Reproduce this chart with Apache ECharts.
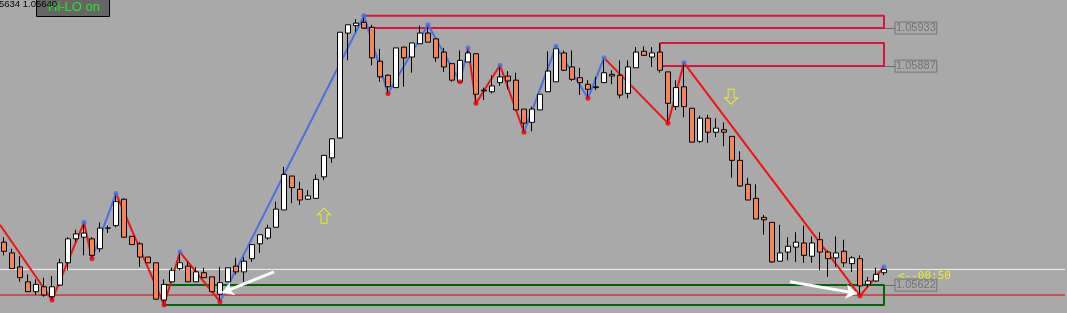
<!DOCTYPE html>
<html><head><meta charset="utf-8">
<script src="https://cdn.jsdelivr.net/npm/echarts@6/dist/echarts.min.js"></script>
<style>html,body{margin:0;padding:0;background:#a9a9a9;overflow:hidden}#c{width:1067px;height:313px}</style>
</head><body><div id="c"></div>
<script>
// ---------- data ----------
const opens = [1.05674,1.05661,1.05644,1.05626,1.05614,1.05620,1.05608,1.05622,1.05649,1.05678,
 1.05680,1.05678,1.05666,1.05691,1.05694,1.05726,1.05681,1.05672,1.05656,1.05649,
 1.05604,1.05626,1.05642,1.05645,1.05626,1.05637,1.05632,1.05611,1.05626,1.05645,
 1.05638,1.05654,1.05672,1.05679,1.05692,1.05713,1.05754,1.05738,1.05726,1.05727,
 1.05753,1.05776,1.05800,1.05927,1.05936,1.05940,1.05934,1.05893,1.05876,1.05861,
 1.05910,1.05898,1.05914,1.05927,1.05920,1.05904,1.05890,1.05868,1.05892,1.05902,
 1.05858,1.05856,1.05867,1.05875,1.05870,1.05835,1.05819,1.05834,1.05856,1.05868,
 1.05903,1.05886,1.05873,1.05865,1.05861,1.05867,1.05877,1.05876,1.05854,1.05885,
 1.05905,1.05898,1.05904,1.05880,1.05838,1.05862,1.05836,1.05796,1.05824,1.05807,
 1.05810,1.05802,1.05773,1.05744,1.05727,1.05704,1.05698,1.05651,1.05662,1.05668,
 1.05673,1.05657,1.05677,1.05662,1.05655,1.05663,1.05648,1.05654,1.05623,1.05627,
 1.05637];
const closes = [1.05663,1.05642,1.05631,1.05614,1.05623,1.05610,1.05620,1.05649,1.05678,1.05684,
 1.05685,1.05658,1.05691,1.05691,1.05723,1.05680,1.05671,1.05656,1.05649,1.05605,
 1.05623,1.05640,1.05649,1.05626,1.05638,1.05631,1.05614,1.05625,1.05643,1.05638,
 1.05651,1.05671,1.05683,1.05691,1.05714,1.05756,1.05740,1.05725,1.05730,1.05750,
 1.05779,1.05799,1.05928,1.05937,1.05939,1.05933,1.05897,1.05874,1.05862,1.05909,
 1.05897,1.05915,1.05927,1.05916,1.05897,1.05886,1.05870,1.05894,1.05903,1.05853,
 1.05857,1.05863,1.05874,1.05869,1.05834,1.05818,1.05835,1.05853,1.05881,1.05908,
 1.05882,1.05871,1.05867,1.05859,1.05862,1.05879,1.05875,1.05852,1.05886,1.05904,
 1.05900,1.05903,1.05882,1.05842,1.05861,1.05838,1.05795,1.05824,1.05807,1.05812,
 1.05807,1.05773,1.05742,1.05725,1.05702,1.05701,1.05650,1.05661,1.05669,1.05674,
 1.05658,1.05673,1.05662,1.05654,1.05661,1.05649,1.05655,1.05621,1.05627,1.05635,
 1.05641];
const lows = [1.05658,1.05642,1.05626,1.05614,1.05610,1.05608,1.05604,1.05621,1.05640,1.05674,
 1.05658,1.05654,1.05662,1.05685,1.05692,1.05680,1.05671,1.05644,1.05649,1.05605,
 1.05598,1.05625,1.05640,1.05626,1.05626,1.05631,1.05614,1.05602,1.05626,1.05635,
 1.05626,1.05650,1.05661,1.05677,1.05692,1.05713,1.05721,1.05719,1.05725,1.05727,
 1.05749,1.05770,1.05799,1.05894,1.05928,1.05933,1.05888,1.05868,1.05854,1.05861,
 1.05862,1.05879,1.05914,1.05916,1.05892,1.05880,1.05868,1.05868,1.05892,1.05842,
 1.05846,1.05854,1.05863,1.05859,1.05834,1.05807,1.05808,1.05834,1.05856,1.05868,
 1.05881,1.05869,1.05852,1.05848,1.05858,1.05867,1.05865,1.05848,1.05848,1.05885,
 1.05900,1.05886,1.05879,1.05818,1.05834,1.05825,1.05795,1.05794,1.05794,1.05801,
 1.05790,1.05752,1.05741,1.05725,1.05702,1.05683,1.05649,1.05650,1.05652,1.05650,
 1.05649,1.05649,1.05640,1.05632,1.05644,1.05644,1.05638,1.05609,1.05620,1.05626,
 1.05634];
const highs = [1.05680,1.05666,1.05657,1.05635,1.05629,1.05631,1.05633,1.05654,1.05680,1.05689,
 1.05698,1.05680,1.05698,1.05694,1.05733,1.05727,1.05681,1.05674,1.05656,1.05649,
 1.05629,1.05643,1.05662,1.05650,1.05644,1.05643,1.05632,1.05644,1.05643,1.05655,
 1.05656,1.05671,1.05683,1.05695,1.05723,1.05765,1.05754,1.05747,1.05737,1.05756,
 1.05779,1.05800,1.05928,1.05937,1.05944,1.05948,1.05937,1.05908,1.05877,1.05909,
 1.05910,1.05915,1.05936,1.05937,1.05920,1.05909,1.05890,1.05906,1.05909,1.05902,
 1.05861,1.05876,1.05888,1.05881,1.05879,1.05835,1.05838,1.05853,1.05905,1.05911,
 1.05906,1.05906,1.05885,1.05870,1.05874,1.05897,1.05882,1.05894,1.05894,1.05910,
 1.05911,1.05910,1.05915,1.05880,1.05870,1.05891,1.05836,1.05827,1.05828,1.05824,
 1.05819,1.05802,1.05784,1.05752,1.05744,1.05707,1.05698,1.05695,1.05680,1.05686,
 1.05694,1.05681,1.05686,1.05664,1.05681,1.05677,1.05657,1.05658,1.05632,1.05643,
 1.05644];

// zigzag pivots (bar index, price) and segment colours
const zzIdx   = [-0.5,6,10,11,14,20,22,27,45,48,53,57,58,59,62,65,69,73,75,83,85,107,110];
const zzPrice = [1.05695,1.05604,1.05698,1.05654,1.05733,1.05598,1.05662,1.05602,1.05948,1.05854,
                 1.05937,1.05868,1.05909,1.05842,1.05888,1.05807,1.05911,1.05848,1.05897,1.05818,
                 1.05891,1.05609,1.05644];
const zzSegUp = [0,0,0,1,0,0,0,1,1,1,1,1,0,0,0,1,1,1,0,0,0,0]; // 1 = blue leg, 0 = red leg

// zones [fromBar, toBar, topPrice, bottomPrice]
const resistZone1 = [44.875, 110, 1.05948, 1.05933];
const resistZone2 = [82, 110, 1.05915, 1.05887];
const supportZone = [20.1, 110, 1.05622, 1.05598];
const zoneLabels = [1.05933, 1.05887, 1.05622];
const bidPrice = 1.05641;
const redLevel = 1.05610;
// white arrows [fromBar, fromPrice, toBar, toPrice]
const whiteArrows = [[33.75, 1.05638, 27.3, 1.05613], [98.25, 1.05626, 106.6, 1.05612]];
// yellow signal arrows [bar, price, dir]
const signalArrows = [[40, 1.05706, 'up'], [90.9, 1.05850, 'down']];
const timerText = '<--00:50';
const infoText = '5634 1.05640';
const buttonText = 'Hi-LO on';

// ---------- chart ----------
const SLOTS = 133;
const cats = [];
for (let i = 0; i < SLOTS; i++) cats.push('b' + i);
const ohlc = opens.map((o, i) => [o, closes[i], lows[i], highs[i]]);
const RED = '#f21010', BLUE = '#4a6ee8';

const zzSegs = [];
for (let i = 0; i < zzIdx.length - 1; i++) {
  zzSegs.push({coords: [[zzIdx[i], zzPrice[i]], [zzIdx[i+1], zzPrice[i+1]]],
               lineStyle: {color: zzSegUp[i] ? BLUE : RED}});
}
const zzDots = [];
for (let i = 1; i < zzIdx.length; i++) {
  const isHigh = zzPrice[i] > zzPrice[i-1];
  zzDots.push({value: [zzIdx[i], zzPrice[i]], itemStyle: {color: isHigh ? BLUE : '#ee0000'}});
}
function rectPath(z) {
  return [[z[0], z[2]], [z[1], z[2]], [z[1], z[3]], [z[0], z[3]], [z[0], z[2]]];
}
const YMAX = 1.05967, YMIN = 1.0558827;

const chart = echarts.init(document.getElementById('c'), null, {renderer: 'canvas'});
chart.setOption({
  backgroundColor: '#a9a9a9',
  animation: false,
  grid: {left: 0, right: 3, top: 0, bottom: 0},
  xAxis: [
    {type: 'category', data: cats, show: false, boundaryGap: true},
    {type: 'value', min: -0.5, max: SLOTS - 0.5, show: false}
  ],
  yAxis: {type: 'value', min: YMIN, max: YMAX, show: false, splitLine: {show: false}},
  graphic: [
    {type: 'rect', z: 50, shape: {x: 36.5, y: -3, width: 73, height: 19.5},
     style: {fill: '#666666', stroke: '#000000', lineWidth: 1}},
    {type: 'text', z: 51, style: {text: buttonText, x: 48, y: 7, fill: '#1ef01e',
     font: '13px "Liberation Sans", Arial, sans-serif', verticalAlign: 'middle'}},
    {type: 'text', z: 52, style: {text: infoText, x: -1, y: 4, fill: '#000000',
     font: '9.5px "Liberation Sans", Arial, sans-serif', verticalAlign: 'middle'}}
  ],
  series: [
    {type: 'line', name: 'bid', xAxisIndex: 1, z: 1, clip: false, showSymbol: false, silent: true,
     data: [[-0.5, bidPrice], [SLOTS, bidPrice]], lineStyle: {color: '#f4f4f4', width: 1}},
    {type: 'line', name: 'low level', xAxisIndex: 1, z: 1, clip: false, showSymbol: false, silent: true,
     data: [[-0.5, redLevel], [SLOTS, redLevel]], lineStyle: {color: '#dd0000', width: 1}},
    {type: 'line', name: 'zone1', xAxisIndex: 1, z: 1, showSymbol: false, silent: true,
     data: rectPath(resistZone1), lineStyle: {color: '#dc143c', width: 2}},
    {type: 'line', name: 'zone2', xAxisIndex: 1, z: 1, showSymbol: false, silent: true,
     data: rectPath(resistZone2), lineStyle: {color: '#dc143c', width: 2}},
    {type: 'line', name: 'zone3', xAxisIndex: 1, z: 1, showSymbol: false, silent: true,
     data: rectPath(supportZone), lineStyle: {color: '#006400', width: 2}},
    {type: 'lines', name: 'connectors', coordinateSystem: 'cartesian2d', xAxisIndex: 1, z: 1, silent: true,
     data: zoneLabels.map(p => ({coords: [[110, p], [111.4, p]]})),
     lineStyle: {color: '#6c6c6c', width: 1, opacity: 1}},
    {type: 'lines', name: 'zigzag', coordinateSystem: 'cartesian2d', xAxisIndex: 1, z: 2, silent: true,
     data: zzSegs, lineStyle: {width: 2, opacity: 1}},
    {type: 'candlestick', name: 'price', xAxisIndex: 0, z: 3, barWidth: 5, silent: true,
     data: ohlc,
     itemStyle: {color: '#ffffff', color0: '#f4845c', borderColor: '#000000', borderColor0: '#000000', borderWidth: 1}},
    {type: 'scatter', name: 'pivots', xAxisIndex: 1, z: 4, symbolSize: 5, silent: true, data: zzDots},
    {type: 'lines', name: 'white arrows', coordinateSystem: 'cartesian2d', xAxisIndex: 1, z: 5, silent: true,
     symbol: ['none', 'arrow'], symbolSize: 11,
     data: whiteArrows.map(a => ({coords: [[a[0], a[1]], [a[2], a[3]]]})),
     lineStyle: {color: '#ffffff', width: 3, opacity: 1}},
    {type: 'scatter', name: 'signals', xAxisIndex: 1, z: 5, silent: true,
     data: signalArrows.map(a => ({value: [a[0], a[1]],
       symbol: a[2] === 'up'
         ? 'path://M6.5,0 L13,6.5 L9.5,6.5 L9.5,15 L3.5,15 L3.5,6.5 L0,6.5 Z'
         : 'path://M6.5,15 L13,8.5 L9.5,8.5 L9.5,0 L3.5,0 L3.5,8.5 L0,8.5 Z'})),
     symbolSize: [13, 15],
     itemStyle: {color: 'rgba(0,0,0,0)', borderColor: '#ffff00', borderWidth: 1}},
    {type: 'scatter', name: 'price labels', xAxisIndex: 1, z: 6, silent: true, symbolSize: 0,
     data: zoneLabels.map(p => [111.375, p]),
     label: {show: true, position: 'right', distance: 0, formatter: p => p.value[1].toFixed(5),
       color: '#666666', fontSize: 11, fontFamily: '"Liberation Sans", Arial, sans-serif',
       borderColor: '#666666', borderWidth: 1, padding: [1, 1, 0, 1], lineHeight: 11}},
    {type: 'scatter', name: 'timer', xAxisIndex: 1, z: 6, silent: true, symbolSize: 0,
     data: [[111.75, 1.05633]],
     label: {show: true, position: 'right', distance: 0, formatter: timerText,
       color: '#ffff00', fontSize: 11, fontFamily: '"DejaVu Sans Mono", monospace'}}
  ]
});
</script>
</body></html>
